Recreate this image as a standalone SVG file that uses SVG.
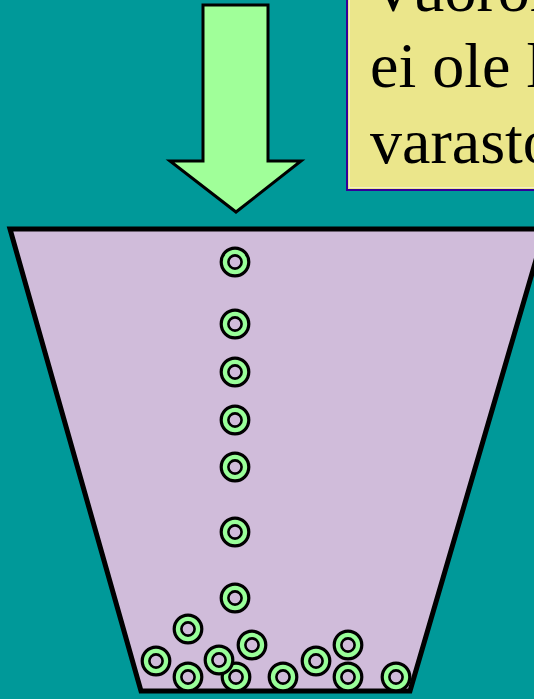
<svg xmlns="http://www.w3.org/2000/svg" width="534" height="699" viewBox="0 0 534 699">
<defs>
<style>
.txt{font-family:"Liberation Serif","Times New Roman",serif;font-size:64px;fill:#000}
.ro{fill:#99FF99;stroke:#000;stroke-width:3.2}
.ri{fill:#D0BCDA;stroke:#000;stroke-width:2.6}
</style>
<g id="ring"><circle class="ro" r="13.8"/><circle class="ri" r="6.6"/></g>
</defs>
<rect width="534" height="699" fill="#009999"/>
<g id="note">
<rect x="347" y="-10" width="200" height="200" fill="#EBE68B" stroke="#330099" stroke-width="2"/>
<rect x="349.5" y="-10" width="200" height="197.5" fill="none" stroke="#F4F0C8" stroke-width="1"/>
<text class="txt" x="370" y="11">Vuoron</text>
<text class="txt" x="370" y="87">ei ole l</text>
<text class="txt" x="370" y="163">varasto</text>
</g>
<g id="bucket">
<polygon points="10,229 545,229 410,691 141,691" fill="#D0BCDA" stroke="#000" stroke-width="5" stroke-linejoin="miter"/>
</g>
<g id="connectors">
<polygon id="arrow" points="203,5 268,5 268,161 301,161 236,212 170,161 203,161" fill="#A0FF99" stroke="#000" stroke-width="3"/>
</g>
<g id="items">
<use href="#ring" x="235" y="262"/>
<use href="#ring" x="235" y="324"/>
<use href="#ring" x="235" y="372"/>
<use href="#ring" x="235" y="420"/>
<use href="#ring" x="235" y="467"/>
<use href="#ring" x="235" y="532"/>
<use href="#ring" x="235" y="598"/>
<use href="#ring" x="188" y="629"/>
<use href="#ring" x="236" y="677"/>
<use href="#ring" x="156" y="661"/>
<use href="#ring" x="188" y="677"/>
<use href="#ring" x="219" y="660"/>
<use href="#ring" x="252" y="645"/>
<use href="#ring" x="283" y="677"/>
<use href="#ring" x="316" y="661"/>
<use href="#ring" x="348" y="645"/>
<use href="#ring" x="348" y="677"/>
<use href="#ring" x="396" y="677"/>
</g>
</svg>
